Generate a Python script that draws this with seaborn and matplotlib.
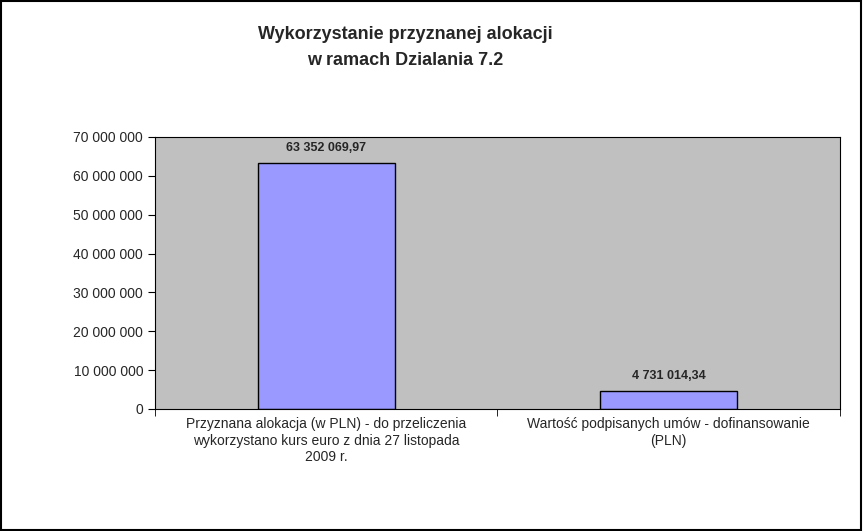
import seaborn as sns
import matplotlib as mpl
import matplotlib.pyplot as plt
from matplotlib.patches import Rectangle

categories = ["Przyznana alokacja (w PLN) - do przeliczenia\nwykorzystano kurs euro z dnia 27 listopada\n2009 r.",
              "Wartość podpisanych umów - dofinansowanie\n(PLN)"]
values = [63352069.97, 4731014.34]
value_labels = ["63 352 069,97", "4 731 014,34"]
yticks = list(range(0, 70000001, 10000000))

sns.set_style("white")
plt.rcParams['font.family'] = ['Liberation Sans', 'DejaVu Sans']

fig = plt.figure(figsize=(8.63, 5.31), dpi=100)
fig.patches.append(Rectangle((0.001, 0.001), 0.997, 0.997, transform=fig.transFigure,
                             fill=False, edgecolor="black", linewidth=1.5))
ax = fig.add_axes([0.1796, 0.2298, 0.7937, 0.5122])
ax.set_facecolor("#C0C0C0")

sns.barplot(x=[0, 1], y=values, ax=ax, color="#9999FF", width=0.4,
            edgecolor="black", linewidth=1, saturation=1)

for i, (v, lab) in enumerate(zip(values, value_labels)):
    ax.text(i, v + 2200000, lab, ha="center", va="bottom", fontsize=9, fontweight="bold")

ax.set_xlim(-0.5, 1.5)
ax.set_ylim(0, 70000000)
ax.set_yticks(yticks)
ax.set_yticklabels(["{:,}".format(t).replace(",", " ") for t in yticks], fontsize=10)
ax.set_xticks([0, 1])
ax.set_xticklabels(categories, fontsize=10)
ax.set_xticks([-0.5, 0.5, 1.5], minor=True)
ax.tick_params(axis="x", which="major", length=0, pad=6)
ax.tick_params(axis="x", which="minor", length=5, direction="out", bottom=True, color="black")
ax.tick_params(axis="y", length=5, direction="out", left=True, color="black")
for s in ax.spines.values():
    s.set_color("black")
    s.set_linewidth(0.8)

fig.text(0.47, 0.935, "Wykorzystanie przyznanej alokacji", ha="center", va="center",
         fontsize=13, fontweight="bold")
fig.text(0.47, 0.887, "w ramach Dzialania 7.2", ha="center", va="center",
         fontsize=13, fontweight="bold")

plt.savefig("out.png", dpi=100)
